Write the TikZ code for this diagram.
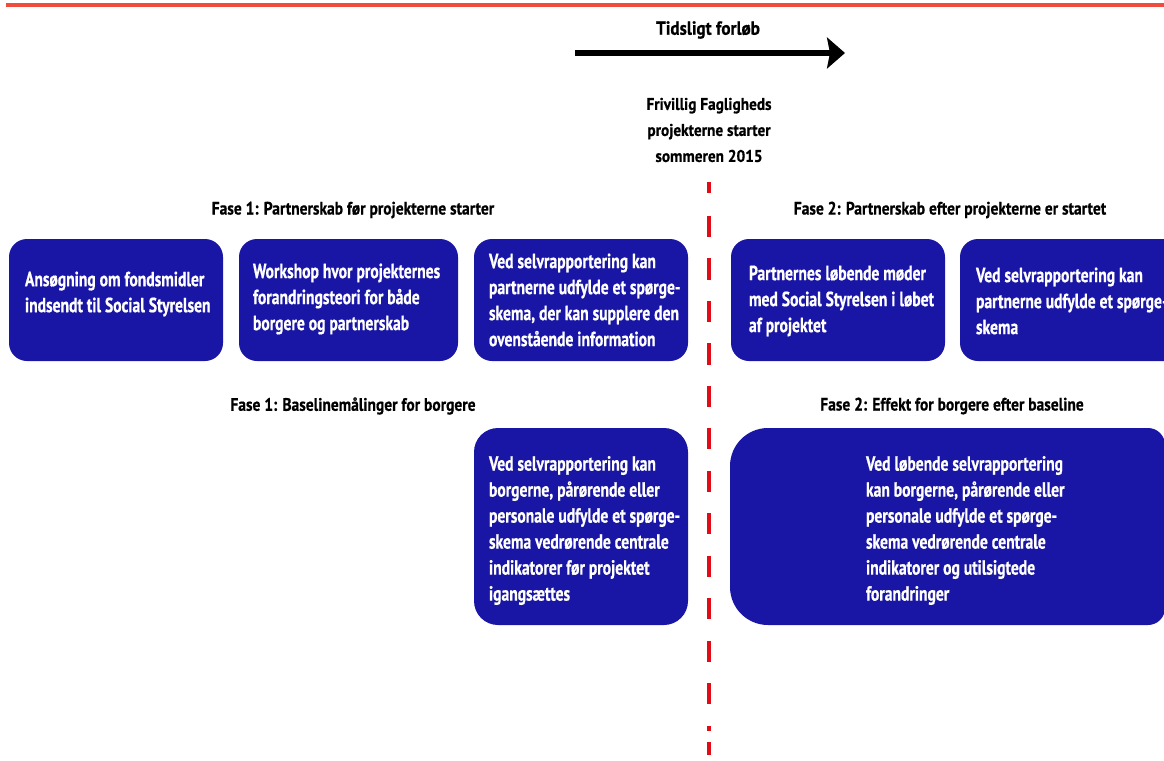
\documentclass[tikz,border=0pt]{standalone}
\usepackage{fontspec}
\setmainfont{PT Sans}[FakeStretch=0.76, FakeBold=0.6]
\newfontfamily\headfont{PT Sans}[FakeStretch=0.86, FakeBold=0.6]
\newfontfamily\timefont{PT Sans}[FakeStretch=0.9, FakeBold=0.6]
\usetikzlibrary{arrows.meta}
\definecolor{boxblue}{RGB}{26,22,165}
\definecolor{topred}{RGB}{240,76,62}
\definecolor{divred}{RGB}{226,12,22}
\tikzset{
  bluebox/.style={fill=boxblue, draw=none, rounded corners=18pt, inner sep=0pt},
  boxtext/.style={text=white, anchor=west, align=left, inner sep=0pt,
    font=\bfseries\fontsize{20.5}{26}\selectfont},
  heading/.style={text=black, inner sep=0pt, font=\headfont\bfseries\fontsize{18}{26}\selectfont},
  divline/.style={draw=divred, line width=4pt},
}
\begin{document}
\begin{tikzpicture}[x=1pt,y=-1pt]
\useasboundingbox (0,0) rectangle (1164,760);
\clip (0,0) rectangle (1164,760);
% top red rule
\coordinate (rl) at (6,5);
\coordinate (rr) at (1164,5);
\draw[topred, line width=4pt] (rl) -- (rr);
% time arrow
\node[heading, font=\timefont\bfseries\fontsize{19}{26}\selectfont] (tid) at (708,30) {Tidsligt forløb};
\coordinate (ta) at (575,53);
\coordinate (tb) at (845,53);
\draw[line width=6pt, -{Stealth[length=18pt,width=31pt,inset=3pt]}] (ta) -- (tb);
% start label
\node[heading, align=center, font=\timefont\bfseries\fontsize{17}{26}\selectfont] (start) at (709,130)
  {Frivillig Fagligheds\\projekterne starter\\sommeren 2015};
% dashed divider
\coordinate (divtop) at (709,182);
\coordinate (divbot) at (709,755);
\draw[divline] (divtop) -- (709,193);
\foreach \k in {0,...,11}{
  \draw[divline] (709,{216+42.45*\k}) -- (709,{237.2+42.45*\k});
}
\draw[divline] (709,726) -- (709,731);
\draw[divline] (709,742) -- (divbot);
% headings
\node[heading] (h1) at (353,210) {Fase 1: Partnerskab før projekterne starter};
\node[heading] (h2) at (950,210) {Fase 2: Partnerskab efter projekterne er startet};
\node[heading] (h3) at (353,406) {Fase 1: Baselinemålinger for borgere};
\node[heading] (h4) at (952,406) {Fase 2: Effekt for borgere efter baseline};
% row 1 boxes
\node[bluebox, minimum width=214pt, minimum height=122pt] (b1) at (116,300) {};
\node[boxtext] (t1) at ([xshift=16pt,yshift=6pt]b1.west) {Ansøgning om fondsmidler\\indsendt til Social Styrelsen};
\node[bluebox, minimum width=219pt, minimum height=122pt] (b2) at (348.5,300) {};
\node[boxtext] (t2) at ([xshift=14pt,yshift=1pt]b2.west) {Workshop hvor projekternes\\forandringsteori for både\\borgere og partnerskab};
\node[bluebox, minimum width=214pt, minimum height=122pt] (b3) at (581,300) {};
\node[boxtext] (t3) at ([xshift=15pt]b3.west) {Ved selvrapportering kan\\partnerne udfylde et spørge-\\skema, der kan supplere den\\ovenstående information};
\node[bluebox, minimum width=214pt, minimum height=122pt] (b4) at (838,300) {};
\node[boxtext] (t4) at ([xshift=18pt,yshift=-1pt]b4.west) {Partnernes løbende møder\\med Social Styrelsen i løbet\\af projektet};
\node[bluebox, minimum width=230pt, minimum height=122pt] (b5) at (1075,300) {};
\node[boxtext] (t5) at ([xshift=16pt,yshift=-1pt]b5.west) {Ved selvrapportering kan\\partnerne udfylde et spørge-\\skema};
% row 2 boxes
\node[bluebox, rounded corners=24pt, minimum width=214pt, minimum height=197pt] (b6) at (581,526.5) {};
\node[boxtext] (t6) at ([xshift=15pt,yshift=-4pt]b6.west) {Ved selvrapportering kan\\borgerne, pårørende eller\\personale udfylde et spørge-\\skema vedrørende centrale\\indikatorer før projektet\\igangsættes};
\fill[boxblue] (948,428) [rounded corners=17pt] -- (1165,428) -- (1165,625) -- (948,625)
  [rounded corners=38pt] -- (730,625) -- (730,428) -- cycle;
\node[inner sep=0pt, minimum width=435pt, minimum height=197pt] (b7) at (947.5,526.5) {};
\node[boxtext] (t7) at ([xshift=136pt,yshift=-4pt]b7.west) {Ved løbende selvrapportering\\kan borgerne, pårørende eller\\personale udfylde et spørge-\\skema vedrørende centrale\\indikatorer og utilsigtede\\forandringer};
\end{tikzpicture}
\end{document}
